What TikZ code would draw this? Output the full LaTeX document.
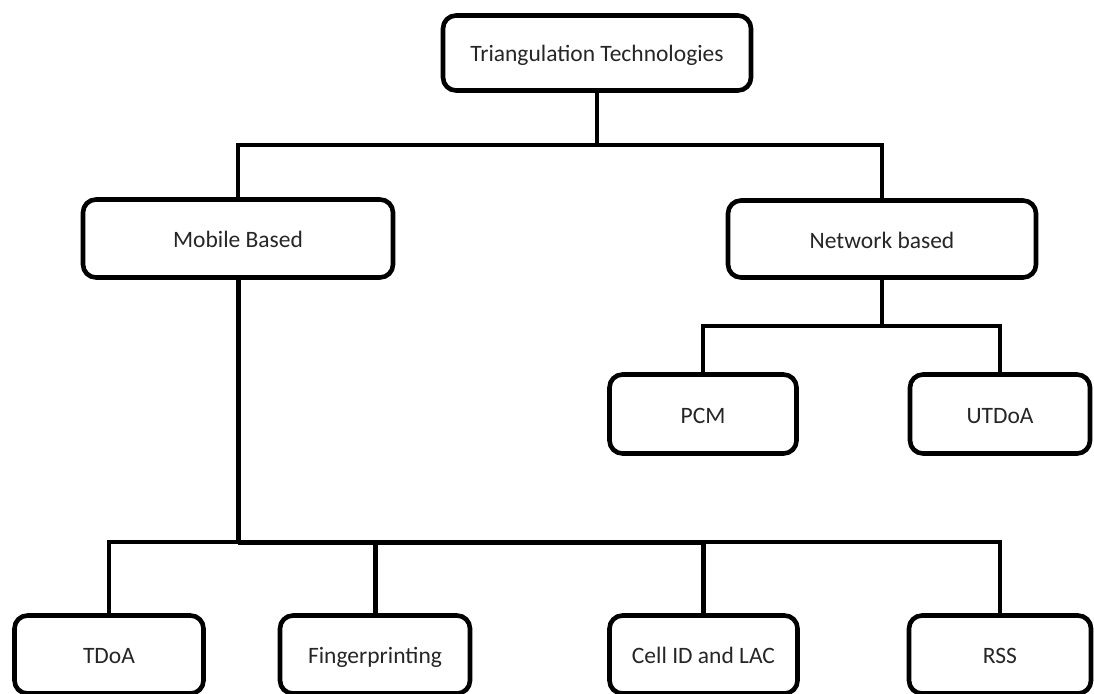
\documentclass[tikz,border=0pt]{standalone}
\usepackage{fontspec}
\setmainfont{Carlito}
\begin{document}
\begin{tikzpicture}[x=1pt,y=-1pt,
  box/.style={draw=black, line width=4.6pt, rounded corners=13pt, fill=white,
    inner sep=0pt, text=black!85, text height=18pt, text depth=0pt,
    font=\fontsize{23.5}{28}\selectfont},
  link/.style={draw=black, line width=4pt},
  trunk/.style={draw=black, line width=5pt}]
\useasboundingbox (0,0) rectangle (1094,693);
\fill[white] (0,0) rectangle (1094,693);

% tree nodes
\node[box, minimum width=308pt, minimum height=75pt] (top) at (597,53) {Triangulation Technologies};
\node[box, minimum width=310pt, minimum height=78pt] (mob) at (238,238.5) {Mobile Based};
\node[box, minimum width=308pt, minimum height=77pt] (net) at (882,239) {Network based};
\node[box, minimum width=187pt, minimum height=79pt] (pcm) at (703,414) {PCM};
\node[box, minimum width=180pt, minimum height=79pt] (utd) at (1000,414) {UTDoA};
\node[box, minimum width=189pt, minimum height=78pt] (tdoa) at (109,654.5) {TDoA};
\node[box, minimum width=190pt, minimum height=78pt] (fing) at (375,654.5) {Fingerprinting};
\node[box, minimum width=188pt, minimum height=78pt] (cell) at (703.5,654.5) {Cell ID and LAC};
\node[box, minimum width=182pt, minimum height=78pt] (rss) at (1000,654.5) {RSS};

% junction points
\coordinate (j1) at (597,145);
\coordinate (j2) at (882,326);
\coordinate (j3) at (238,542);

% connectors
\draw[link] (top.south) -- (j1);
\draw[link] (mob.north) |- (j1) -| (net.north);
\draw[link] (net.south) -- (j2);
\draw[link] (pcm.north) |- (j2) -| (utd.north);
\draw[trunk] (mob.south) -- (j3);
\draw[link] (tdoa.north) |- (j3);
\draw[trunk] (j3) -| (fing.north);
\draw[trunk] (j3) -| (cell.north);
\draw[link] (cell.north) |- (rss.north |- j3) -- (rss.north);
\end{tikzpicture}
\end{document}
